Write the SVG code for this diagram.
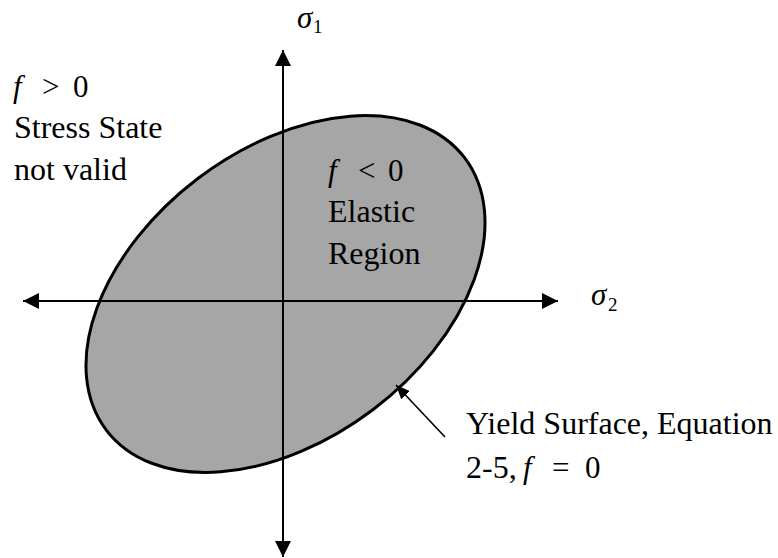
<svg xmlns="http://www.w3.org/2000/svg" width="778" height="558" viewBox="0 0 778 558">
<defs>
<style>
.t{font-family:"Liberation Serif","Times New Roman",serif;font-size:32px;fill:#000}
.m{font-family:"Liberation Serif","Times New Roman",serif;font-size:31px;fill:#000}
.i{font-style:italic}
.sub{font-family:"Liberation Serif","Times New Roman",serif;font-size:19px;fill:#000}
.ax{stroke:#000;stroke-width:2;fill:none}
</style>
<marker id="ah" viewBox="0 0 16 16" refX="16" refY="8" markerWidth="16" markerHeight="16" markerUnits="userSpaceOnUse" orient="auto">
<path d="M0,0 L16,8 L0,16 Z" fill="#000"/>
</marker>
<marker id="ahs" viewBox="0 0 14 12" refX="14" refY="6" markerWidth="14" markerHeight="12" markerUnits="userSpaceOnUse" orient="auto">
<path d="M0,0 L14,6 L0,12 Z" fill="#000"/>
</marker>
</defs>
<rect width="778" height="558" fill="#fff"/>
<g id="yield-surface">
<ellipse cx="285.5" cy="294" rx="225" ry="145" transform="rotate(-37.2 285.5 294)" fill="#a6a6a6" stroke="#000" stroke-width="3"/>
</g>
<g id="connectors">
<line class="ax" x1="283" y1="301" x2="283" y2="50" marker-end="url(#ah)"/>
<line class="ax" x1="283" y1="301" x2="283" y2="557" marker-end="url(#ah)"/>
<line class="ax" x1="283" y1="301" x2="23" y2="301" marker-end="url(#ah)"/>
<line class="ax" x1="283" y1="301" x2="558" y2="301" marker-end="url(#ah)"/>
<line x1="445" y1="437" x2="396" y2="385" stroke="#000" stroke-width="1.6" marker-end="url(#ahs)"/>
</g>
<g id="sigma1-label">
<text class="m i" x="297" y="28">σ</text><text class="sub" x="313" y="33">1</text>
</g>
<g id="sigma2-label">
<text class="m i" x="591" y="305">σ</text><text class="sub" x="608" y="311">2</text>
</g>
<g id="outside-label">
<text class="m i" x="13" y="97">f</text><text class="m" x="42" y="97">&gt;</text><text class="m" x="73" y="97">0</text>
<text class="t" x="14" y="138">Stress State</text>
<text class="t" x="14" y="180">not valid</text>
</g>
<g id="elastic-label">
<text class="m i" x="328" y="181">f</text><text class="m" x="358" y="181">&lt;</text><text class="m" x="388" y="181">0</text>
<text class="t" x="328" y="222">Elastic</text>
<text class="t" x="328" y="264">Region</text>
</g>
<g id="yield-label">
<text class="t" x="466" y="434">Yield Surface, Equation</text>
<text class="t" x="466" y="478">2-5,</text>
<text class="m i" x="523" y="478">f</text><text class="m" x="552" y="478">=</text><text class="m" x="585" y="478">0</text>
</g>
</svg>
